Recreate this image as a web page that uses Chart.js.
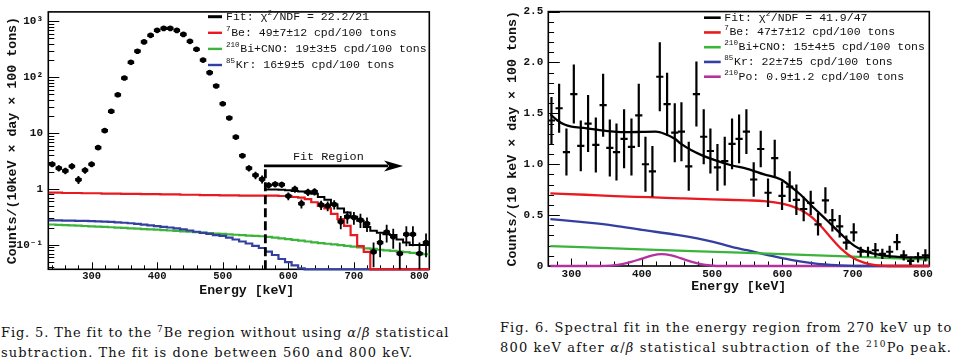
<!DOCTYPE html>
<html><head><meta charset="utf-8">
<script src="https://cdn.jsdelivr.net/npm/chart.js@4.4.1/dist/chart.umd.min.js"></script>
<style>
html,body{margin:0;padding:0;background:#fff;}
body{width:954px;height:364px;position:relative;overflow:hidden;}
canvas{position:absolute;top:0;}
#cL{left:0}
#cR{left:477px}
.cap{position:absolute;font-family:'DejaVu Serif',serif;font-size:13px;line-height:16px;white-space:nowrap;color:#111;}
.cap .s{font-size:9px;position:relative;top:-5px;}
</style></head><body>
<canvas id="cL" width="477" height="300"></canvas>
<canvas id="cR" width="477" height="300"></canvas>
<div class="cap" style="left:1px;top:325px" data-w="448">Fig. 5. The fit to the <span class="s">7</span>Be region without using <i>α</i>/<i>β</i> statistical</div>
<div class="cap" style="left:1px;top:344.5px" data-w="412">subtraction. The fit is done between 560 and 800 keV.</div>
<div class="cap" style="left:500px;top:320.2px" data-w="452">Fig. 6. Spectral fit in the energy region from 270 keV up to</div>
<div class="cap" style="left:500px;top:339.5px" data-w="452">800 keV after <i>α</i>/<i>β</i> statistical subtraction of the <span class="s">210</span>Po peak.</div>
<script>
// ================= Fig. 5 (left, log scale) =================
const leftEnergy = [240,250,260,270,280,290,300,310,320,330,340,350,360,370,380,390,400,410,420,430,
  440,450,460,470,480,490,500,510,520,530,540,550,560,570,580,590,600,610,620,630,
  640,650,660,670,680,690,700,710,720,730,740,750,760,770,780,790,800,810];
const leftCounts = [2.78,2.36,2.12,2.56,1.47,2.17,2.78,5.5,11.1,24.6,
  48.6,97,185,293,430,563,692,750,750,690,
  585,440,317,203,121,70,33.6,18.7,8.5,3.95,
  2.36,1.77,1.5,1.17,1.22,1.2,0.75,1.0,0.55,0.88,
  0.9,0.52,0.5,0.53,0.26,0.32,0.31,0.28,0.24,0.075,
  0.11,0.17,0.14,0.07,0.155,0.155,0.07,0.11];
const leftErr = [0.33,0.30,0.29,0.32,0.24,0.29,0.33,0.45,0.65,0.95,
  1.4,2.0,2.7,3.4,4.1,4.7,5.2,5.4,5.4,5.2,
  4.8,4.2,3.5,2.8,2.2,1.7,1.2,0.85,0.6,0.4,
  0.3,0.27,0.25,0.15,0.16,0.15,0.12,0.14,0.10,0.13,
  0.13,0.10,0.10,0.10,0.07,0.08,0.08,0.08,0.07,0.035,
  0.05,0.06,0.055,0.04,0.06,0.06,0.04,0.05];
const leftFitEnergy = [570,580,590,600,610,620,630,640,650,660,670,680,690,700,710,720,730,740,750,760,770,780,790,800,810];
const leftFit = [0.98,0.98,0.97,0.95,0.92,0.90,0.87,0.82,0.72,0.64,0.53,0.45,0.38,0.32,0.27,0.21,0.18,0.165,0.155,0.15,0.125,0.11,0.10,0.10,0.10];
const leftBe7 = [0.86,0.86,0.85,0.85,0.85,0.84,0.84,0.84,0.83,0.83,
  0.83,0.82,0.82,0.82,0.81,0.81,0.81,0.80,0.80,0.80,
  0.79,0.79,0.79,0.78,0.78,0.78,0.77,0.77,0.77,0.76,
  0.76,0.76,0.76,0.76,0.76,0.75,0.75,0.72,0.70,0.66,
  0.58,0.50,0.45,0.36,0.29,0.22,0.15,0.095,0.075,0,
  0,0,0,0,0,0,0,0];
const leftBiCNO = [0.232,0.229,0.226,0.224,0.221,0.218,0.215,0.213,0.210,0.207,
  0.204,0.201,0.198,0.195,0.192,0.189,0.187,0.184,0.181,0.178,
  0.175,0.172,0.169,0.166,0.163,0.160,0.157,0.155,0.152,0.150,
  0.147,0.145,0.143,0.139,0.135,0.131,0.127,0.123,0.119,0.115,
  0.111,0.108,0.105,0.102,0.099,0.096,0.093,0.090,0.087,0.085,
  0.082,0.080,0.078,0.076,0.074,0.072,0.070,0.068];
const leftKr85 = [0.275,0.274,0.273,0.272,0.270,0.269,0.267,0.264,0.261,0.258,
  0.254,0.249,0.244,0.238,0.231,0.224,0.217,0.211,0.205,0.198,
  0.190,0.181,0.172,0.164,0.157,0.150,0.145,0.135,0.125,0.115,
  0.106,0.096,0.088,0.076,0.066,0.056,0.049,0.043,0.038,0,
  0,0,0,0,0,0,0,0,0,0,
  0,0,0,0,0,0,0,0];
const leftXTicks = [300,400,500,600,700,800];
const leftYTicks = [0.1,1,10,100,1000];
const leftYTickLabels = ['10\u207B\u00B9','1','10','10\u00B2','10\u00B3'];
const leftLegend = ['Fit: \u03C7^{2}/NDF = 22.2/21','^{7}Be: 49\u00B17\u00B112 cpd/100 tons',
  '^{210}Bi+CNO: 19\u00B13\u00B15 cpd/100 tons','^{85}Kr: 16\u00B19\u00B15 cpd/100 tons'];

// ================= Fig. 6 (right, linear scale) =================
const rightEnergy = [271.5,282.4,292.8,303.3,313.2,323.6,334.6,345,354.5,364,
  374.8,385.3,395.7,405.2,415.1,425.6,436,446.9,456.4,466.8,
  477.7,488.1,497.6,507.6,518,528.4,538.4,548.8,559.2,569.2,
  579.6,589.1,599.5,610.4,619.9,630.3,640.3,650.7,661.2,671.1,
  681.5,691,701.5,711.4,721.8,732.3,742.2,752.6,763.1,772.6,
  782.5,793,803.4];
const rightCounts = [1.43,1.55,1.12,1.69,1.18,1.40,1.19,1.58,1.16,1.12,
  1.25,1.17,1.48,1.00,0.93,1.86,1.59,1.31,1.32,0.98,
  1.69,1.27,1.13,0.97,1.03,1.20,1.25,1.32,0.85,1.15,
  0.72,1.06,0.69,0.78,0.65,0.56,0.62,0.41,0.645,0.45,
  0.39,0.23,0.33,0.14,0.14,0.155,0.12,0.14,0.235,0.105,
  0.05,0.085,0.105];
const rightErr = [0.23,0.24,0.23,0.29,0.25,0.28,0.27,0.31,0.28,0.28,
  0.29,0.28,0.31,0.27,0.25,0.34,0.31,0.29,0.29,0.24,
  0.32,0.27,0.22,0.23,0.24,0.25,0.24,0.22,0.17,0.18,
  0.14,0.18,0.14,0.15,0.15,0.12,0.12,0.11,0.13,0.11,
  0.11,0.07,0.09,0.05,0.05,0.07,0.05,0.06,0.08,0.05,
  0.04,0.05,0.06];
const rightFitX = [270,280,290,300,320,340,360,380,400,420,432,447,456,470,485,504,527,550,574,598,612,626,645,664,683,702,716,740,764,788,809];
const rightFitY = [1.49,1.43,1.39,1.37,1.355,1.335,1.32,1.315,1.318,1.32,1.30,1.25,1.20,1.14,1.09,1.04,0.99,0.955,0.90,0.85,0.78,0.70,0.57,0.445,0.316,0.20,0.15,0.106,0.09,0.084,0.084];
const rightBe7X = [270,320,361,410,456,500,550,574,598,612,626,640,655,670,685,700,715,730,745,760,809];
const rightBe7Y = [0.713,0.70,0.687,0.676,0.665,0.655,0.645,0.638,0.615,0.59,0.55,0.49,0.39,0.27,0.16,0.08,0.035,0.01,0.002,0,0];
const rightBiX = [270,400,540,700,809];
const rightBiY = [0.196,0.163,0.132,0.092,0.062];
const rightKrX = [270,320,360,400,450,500,532,550,579,598,627,650,680,712,809];
const rightKrY = [0.461,0.428,0.397,0.355,0.305,0.24,0.18,0.155,0.106,0.08,0.042,0.02,0.007,0,0];
const rightPoX = [270,340,355,370,385,400,414,428,442,456,470,484,498,515,809];
const rightPoY = [0,0,0.004,0.016,0.04,0.072,0.102,0.116,0.104,0.075,0.043,0.018,0.005,0,0];
const rightXTicks = [300,400,500,600,700,800];
const rightYTicks = [0,0.5,1,1.5,2,2.5];
const rightYTickLabels = ['0','0.5','1.0','1.5','2.0','2.5'];
const rightLegend = ['Fit: \u03C7^{2}/NDF = 41.9/47','^{7}Be: 47\u00B17\u00B112 cpd/100 tons',
  '^{210}Bi+CNO: 15\u00B14\u00B15 cpd/100 tons','^{85}Kr: 22\u00B17\u00B15 cpd/100 tons',
  '^{210}Po: 0.9\u00B11.2 cpd/100 tons'];

// ================= styling =================
const C = {black:'#000', red:'#e8191f', green:'#3cb43c', blue:'#3440a0', magenta:'#b4329f'};
const MONO = "'Liberation Mono','DejaVu Sans Mono',monospace";
const LEFT_YMIN = 0.0366, LEFT_YMAX = 1480;

// ================= helpers / plugins =================
function histo(centers, vals, halfW, floor) {
  const pts = centers.map((c, i) => ({x: c - halfW, y: Math.max(vals[i], floor)}));
  pts.push({x: centers[centers.length - 1] + halfW, y: Math.max(vals[vals.length - 1], floor)});
  return pts;
}
function pairs(xs, ys) { return xs.map((x, i) => ({x, y: ys[i]})); }

function drawRich(ctx, text, x, y, size, family) {
  const parts = []; const re = /\^\{([^}]*)\}/g; let last = 0, m;
  while ((m = re.exec(text))) {
    if (m.index > last) parts.push({t: text.slice(last, m.index), sup: false});
    parts.push({t: m[1], sup: true}); last = re.lastIndex;
  }
  if (last < text.length) parts.push({t: text.slice(last), sup: false});
  let cx = x;
  for (const p of parts) {
    const fs = p.sup ? size * 0.66 : size;
    ctx.font = fs + 'px ' + family;
    ctx.fillText(p.t, cx, p.sup ? y - size * 0.36 : y);
    cx += ctx.measureText(p.t).width + (p.sup ? 0.6 : 0);
  }
}

const frameTicks = {
  id: 'frameTicks',
  beforeDatasetsDraw(chart, args, o) {
    const {ctx, chartArea: a, scales: {x, y}} = chart;
    ctx.save();
    ctx.strokeStyle = '#000'; ctx.lineWidth = 1;
    ctx.beginPath();
    const xo = o.x;
    for (let k = Math.ceil(x.min / xo.minor); k * xo.minor <= x.max; k++) {
      const v = k * xo.minor;
      const major = Math.abs(v / xo.major - Math.round(v / xo.major)) < 1e-6;
      const px = Math.round(x.getPixelForValue(v)) + 0.5;
      ctx.moveTo(px, a.bottom); ctx.lineTo(px, a.bottom - (major ? xo.majorLen : xo.minorLen));
    }
    const yo = o.y;
    if (yo.log) {
      for (let e = Math.floor(Math.log10(y.min)); e <= Math.ceil(Math.log10(y.max)); e++) {
        for (let mm = 1; mm <= 9; mm++) {
          const v = mm * Math.pow(10, e);
          if (v < y.min || v > y.max) continue;
          const py = Math.round(y.getPixelForValue(v)) + 0.5;
          ctx.moveTo(a.left, py); ctx.lineTo(a.left + (mm === 1 ? yo.majorLen : yo.minorLen), py);
        }
      }
    } else {
      for (let k = Math.ceil(y.min / yo.minor - 1e-9); k * yo.minor <= y.max + 1e-9; k++) {
        const v = k * yo.minor;
        const major = Math.abs(v / yo.major - Math.round(v / yo.major)) < 1e-6;
        const py = Math.round(y.getPixelForValue(v)) + 0.5;
        ctx.moveTo(a.left, py); ctx.lineTo(a.left + (major ? yo.majorLen : yo.minorLen), py);
      }
    }
    ctx.stroke();
    ctx.lineWidth = o.frameWidth;
    ctx.strokeRect(a.left, a.top, a.right - a.left, a.bottom - a.top);
    ctx.restore();
  }
};

const errorBars = {
  id: 'errorBars',
  beforeDatasetDraw(chart, args) {
    const ds = chart.data.datasets[args.index];
    if (!ds.errY) return;
    const {ctx, chartArea: a, scales: {x, y}} = chart;
    const isLog = y.type === 'logarithmic';
    ctx.save();
    ctx.beginPath(); ctx.rect(a.left, a.top, a.right - a.left, a.bottom - a.top); ctx.clip();
    ctx.strokeStyle = ds.errColor; ctx.lineCap = 'butt';
    ds.data.forEach((p, i) => {
      const e = ds.errY[i];
      const px = x.getPixelForValue(p.x), py = y.getPixelForValue(p.y);
      let lo = p.y - e; if (isLog && lo <= 0) lo = y.min * 0.5;
      ctx.lineWidth = ds.errWidthY;
      ctx.beginPath(); ctx.moveTo(px, y.getPixelForValue(lo)); ctx.lineTo(px, y.getPixelForValue(p.y + e)); ctx.stroke();
      ctx.lineWidth = ds.errWidthX;
      ctx.beginPath(); ctx.moveTo(x.getPixelForValue(p.x - ds.errHalfX), py); ctx.lineTo(x.getPixelForValue(p.x + ds.errHalfX), py); ctx.stroke();
    });
    ctx.restore();
  }
};

const rootLegend = {
  id: 'rootLegend',
  afterDatasetsDraw(chart, args, o) {
    const ctx = chart.ctx;
    ctx.save();
    ctx.textBaseline = 'middle'; ctx.textAlign = 'left'; ctx.fillStyle = '#111';
    for (let i = 0; i < o.items.length; i++) {
      const it = o.items[i];
      const yy = o.y0 + i * o.dy;
      ctx.strokeStyle = it.color; ctx.lineWidth = it.w;
      ctx.beginPath(); ctx.moveTo(o.x0, yy); ctx.lineTo(o.x1, yy); ctx.stroke();
      drawRich(ctx, it.text, o.tx, yy, o.size, MONO);
    }
    ctx.restore();
  }
};

const fitRegion = {
  id: 'fitRegion',
  afterDatasetsDraw(chart, args, o) {
    const {ctx, chartArea: a, scales: {x, y}} = chart;
    const px = x.getPixelForValue(o.x0), px1 = x.getPixelForValue(o.x1), py = y.getPixelForValue(o.y);
    ctx.save();
    ctx.strokeStyle = '#000'; ctx.fillStyle = '#000'; ctx.lineWidth = 2.8;
    ctx.setLineDash([9, 4]);
    ctx.beginPath(); ctx.moveTo(px, a.bottom); ctx.lineTo(px, py); ctx.stroke();
    ctx.setLineDash([]);
    ctx.beginPath(); ctx.moveTo(px - 1.4, py); ctx.lineTo(px1 - 15, py); ctx.stroke();
    ctx.beginPath(); ctx.moveTo(px1, py); ctx.lineTo(px1 - 19, py - 5.5); ctx.lineTo(px1 - 14, py); ctx.lineTo(px1 - 19, py + 5.5); ctx.closePath(); ctx.fill();
    ctx.font = '11.8px ' + MONO; ctx.textAlign = 'center'; ctx.textBaseline = 'middle'; ctx.fillStyle = '#111';
    ctx.fillText(o.text, x.getPixelForValue(o.textX), y.getPixelForValue(o.textY));
    ctx.restore();
  }
};

function tickFont(size) { return {family: MONO, size, weight: 'bold'}; }

// ================= left chart =================
new Chart(document.getElementById('cL'), {
  type: 'line',
  data: {datasets: [
    {label: 'data', data: pairs(leftEnergy, leftCounts), showLine: false, pointRadius: 2.8, pointBorderWidth: 0,
     pointBackgroundColor: '#000', errY: leftErr, errHalfX: 5, errColor: '#000', errWidthY: 1.8, errWidthX: 3.2},
    {label: 'fit', data: histo(leftFitEnergy, leftFit, 5, LEFT_YMIN), stepped: 'before', borderColor: C.black, borderWidth: 2, pointRadius: 0, clip: 2},
    {label: 'Be7', data: histo(leftEnergy, leftBe7, 5, LEFT_YMIN), stepped: 'before', borderColor: C.red, borderWidth: 2.2, pointRadius: 0, clip: 2},
    {label: 'Kr85', data: histo(leftEnergy, leftKr85, 5, LEFT_YMIN), stepped: 'before', borderColor: C.blue, borderWidth: 2.2, pointRadius: 0, clip: 2},
    {label: 'BiCNO', data: histo(leftEnergy, leftBiCNO, 5, LEFT_YMIN), stepped: 'before', borderColor: C.green, borderWidth: 2.2, pointRadius: 0, clip: 2}
  ]},
  options: {
    responsive: false, animation: false, devicePixelRatio: 1, events: [],
    layout: {padding: {left: 0, right: 47.7, top: 9.3, bottom: 0}},
    plugins: {
      legend: {display: false}, tooltip: {enabled: false},
      frameTicks: {frameWidth: 1.6, x: {major: 100, minor: 20, majorLen: 7, minorLen: 4}, y: {log: true, majorLen: 11, minorLen: 6}},
      rootLegend: {x0: 208, x1: 222, tx: 226, y0: 16.7, dy: 16.1, size: 11.5, items: [
        {text: leftLegend[0], color: C.black, w: 3},
        {text: leftLegend[1], color: C.red, w: 2.4},
        {text: leftLegend[2], color: C.green, w: 2.4},
        {text: leftLegend[3], color: C.blue, w: 2.4}]},
      fitRegion: {x0: 565, x1: 775, y: 2.59, text: 'Fit Region', textX: 661, textY: 3.8}
    },
    scales: {
      x: {type: 'linear', min: 234, max: 815,
        grid: {display: false, drawTicks: false}, border: {display: false},
        afterBuildTicks: s => { s.ticks = leftXTicks.map(v => ({value: v})); },
        afterFit: s => { s.height = 30.7; },
        ticks: {autoSkip: false, maxRotation: 0, padding: 1, color: '#111', font: tickFont(10.5), callback: (v, i) => String(leftXTicks[i])},
        title: {display: true, text: '  Energy [keV]', color: '#111', font: {family: MONO, size: 13.2, weight: 'bold'}, padding: {top: 0, bottom: 1.4}}},
      y: {type: 'logarithmic', min: LEFT_YMIN, max: LEFT_YMAX,
        grid: {display: false, drawTicks: false}, border: {display: false},
        afterBuildTicks: s => { s.ticks = leftYTicks.map(v => ({value: v})); },
        afterFit: s => { s.width = 48.3; },
        ticks: {autoSkip: false, padding: 5.3, color: '#111', font: tickFont(11), callback: (v, i) => leftYTickLabels[i]},
        title: {display: true, text: 'Counts/(10keV \u00D7 day \u00D7 100 tons)', color: '#111', font: {family: MONO, size: 13.3, weight: 'bold'}, padding: {top: 4.7, bottom: 0}}}
    }
  },
  plugins: [frameTicks, errorBars, rootLegend, fitRegion]
});

// ================= right chart =================
const smooth = {pointRadius: 0, borderWidth: 2.3, tension: 0.4, cubicInterpolationMode: 'monotone', clip: 3, fill: false};
new Chart(document.getElementById('cR'), {
  type: 'line',
  data: {datasets: [
    {label: 'data', data: pairs(rightEnergy, rightCounts), showLine: false, pointRadius: 0,
     errY: rightErr, errHalfX: 5.1, errColor: '#000', errWidthY: 2.2, errWidthX: 2.2},
    Object.assign({label: 'fit', data: pairs(rightFitX, rightFitY), borderColor: C.black}, smooth),
    Object.assign({label: 'Be7', data: pairs(rightBe7X, rightBe7Y), borderColor: C.red}, smooth),
    Object.assign({label: 'BiCNO', data: pairs(rightBiX, rightBiY), borderColor: C.green}, smooth, {tension: 0}),
    Object.assign({label: 'Kr85', data: pairs(rightKrX, rightKrY), borderColor: C.blue}, smooth),
    Object.assign({label: 'Po210', data: pairs(rightPoX, rightPoY), borderColor: C.magenta}, smooth)
  ]},
  options: {
    responsive: false, animation: false, devicePixelRatio: 1, events: [],
    layout: {padding: {left: 0, right: 24.7, top: 7.3, bottom: 0}},
    plugins: {
      legend: {display: false}, tooltip: {enabled: false},
      frameTicks: {frameWidth: 1.6, x: {major: 100, minor: 20, majorLen: 7.5, minorLen: 4.5}, y: {major: 0.5, minor: 0.1, majorLen: 11.5, minorLen: 5.8}},
      rootLegend: {x0: 227, x1: 243.7, tx: 247.3, y0: 17.7, dy: 14.75, size: 11.5, items: [
        {text: rightLegend[0], color: C.black, w: 2.6},
        {text: rightLegend[1], color: C.red, w: 2.6},
        {text: rightLegend[2], color: C.green, w: 2.6},
        {text: rightLegend[3], color: C.blue, w: 2.6},
        {text: rightLegend[4], color: C.magenta, w: 2.6}]}
    },
    scales: {
      x: {type: 'linear', min: 267, max: 809,
        grid: {display: false, drawTicks: false}, border: {display: false},
        afterBuildTicks: s => { s.ticks = rightXTicks.map(v => ({value: v})); },
        afterFit: s => { s.height = 34; },
        ticks: {autoSkip: false, maxRotation: 0, padding: 1.7, color: '#111', font: tickFont(11), callback: (v, i) => String(rightXTicks[i])},
        title: {display: true, text: 'Energy [keV]', color: '#111', font: {family: MONO, size: 13.2, weight: 'bold'}, padding: {top: 0, bottom: 5.4}}},
      y: {type: 'linear', min: 0, max: 2.5,
        grid: {display: false, drawTicks: false}, border: {display: false},
        afterBuildTicks: s => { s.ticks = rightYTicks.map(v => ({value: v})); },
        afterFit: s => { s.width = 71.3; },
        ticks: {autoSkip: false, padding: 5, color: '#111', font: tickFont(11), callback: (v, i) => rightYTickLabels[i]},
        title: {display: true, text: 'Counts/(10 keV \u00D7 day \u00D7 100 tons)', color: '#111', font: {family: MONO, size: 13.3, weight: 'bold'}, padding: {top: 27.3, bottom: 0}}}
    }
  },
  plugins: [frameTicks, errorBars, rootLegend]
});

// ================= captions: fit line widths =================
document.querySelectorAll('.cap').forEach(el => {
  const target = +el.dataset.w;
  const w = el.getBoundingClientRect().width;
  const n = el.textContent.length;
  el.style.letterSpacing = ((target - w) / n) + 'px';
});
</script>
</body></html>
